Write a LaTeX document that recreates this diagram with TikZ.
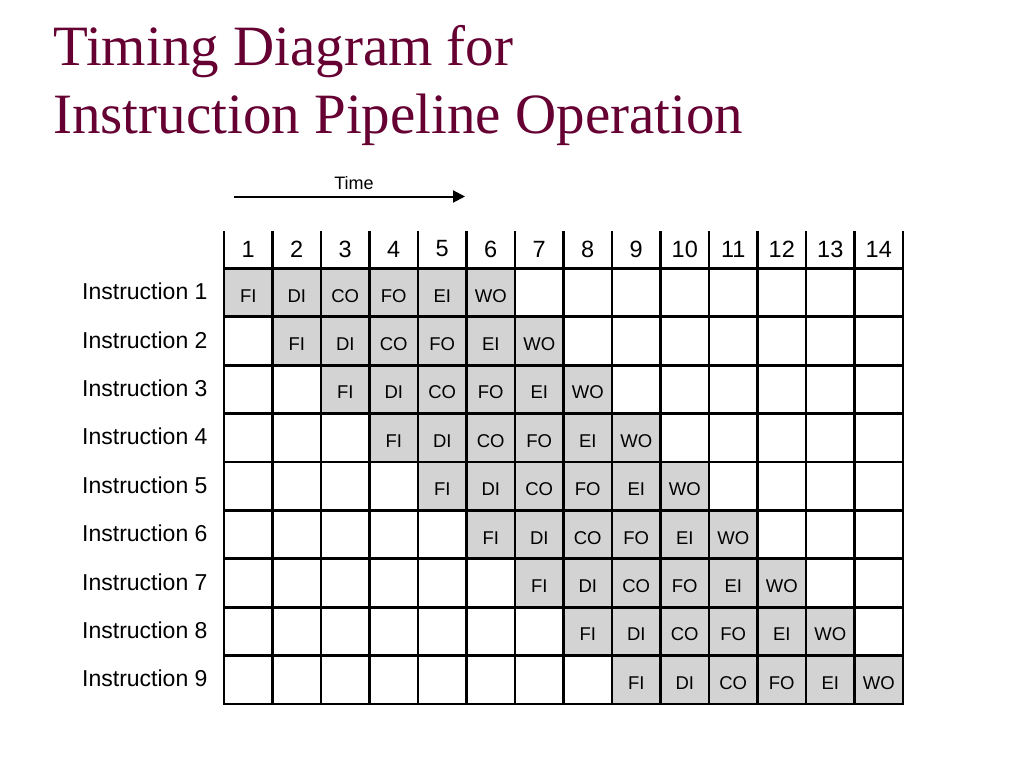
\documentclass[tikz,border=0pt]{standalone}
\usepackage{fontspec}
\setmainfont{Liberation Serif}
\newfontfamily\arial{Liberation Sans}
\usetikzlibrary{arrows.meta}
\definecolor{titlered}{RGB}{102,0,51}
\definecolor{cellgray}{RGB}{211,211,211}
\tikzset{
  titletext/.style={anchor=base west, inner sep=0pt, text=titlered, font=\fontsize{57}{60}\selectfont},
  celltext/.style={inner sep=0pt, font=\arial\fontsize{18.5}{20}\selectfont},
  headtext/.style={inner sep=0pt, font=\arial\fontsize{23.5}{26}\selectfont},
  rowtext/.style={anchor=west, inner sep=0pt, font=\arial\fontsize{23}{26}\selectfont},
  gridline/.style={line width=2.8pt, line cap=rect},
}
\begin{document}
\begin{tikzpicture}[x=1pt,y=-1pt]
\useasboundingbox (0,0) rectangle (1024,768);
\fill[white] (0,0) rectangle (1024,768);
% title
\node[titletext] (t1) at (53,66) {Timing Diagram for};
\node[titletext] (t2) at (53,133) {Instruction Pipeline Operation};
% time arrow
\node[inner sep=0pt, font=\arial\fontsize{18}{20}\selectfont] (time) at (354,183) {Time};
\coordinate (a0) at (234,196.5);
\coordinate (a1) at (465,196.5);
\draw[line width=2pt, -{Triangle[length=12pt,width=12pt]}] (a0) -- (a1);
% gray cells
\foreach \k in {1,...,9}{
  \foreach \lab [count=\s from 0] in {FI,DI,CO,FO,EI,WO}{
    \pgfmathsetmacro\xa{224+48.5*(\k+\s-1)}
    \pgfmathsetmacro\ya{268.3+48.4*(\k-1)}
    \fill[cellgray] (\xa,\ya) rectangle ++(48.5,48.4);
    \node[celltext] (c\k-\s) at (\xa+24.25,\ya+27.5) {\lab};
  }
}
% header numbers
\foreach \i in {1,...,14}{
  \node[headtext] (h\i) at (224+48.5*\i-24.25,249) {\i};
}
% row labels
\foreach \k in {1,...,9}{
  \node[rowtext] (r\k) at (82,291.5+48.4*\k-48.4) {Instruction \k};
}
% grid
\foreach \i in {0,...,14}{
  \draw[gridline] (224+48.5*\i,232.5) -- (224+48.5*\i,703.9);
}
\foreach \j in {0,...,9}{
  \draw[gridline] (224,268.3+48.4*\j) -- (903,268.3+48.4*\j);
}
\end{tikzpicture}
\end{document}
